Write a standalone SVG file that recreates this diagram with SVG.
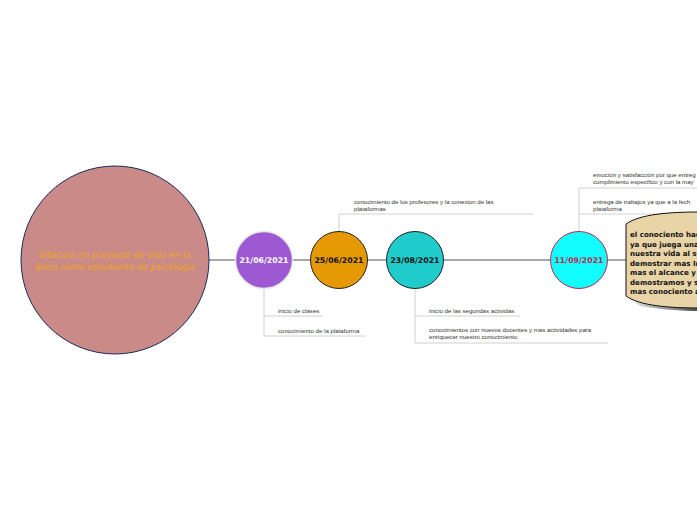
<svg xmlns="http://www.w3.org/2000/svg" width="697" height="520" viewBox="0 0 697 520">
<style>
.lbl{font-family:"Liberation Sans",Arial,sans-serif;font-size:6.1px;fill:#333}
.date{font-family:"DejaVu Sans",Verdana,sans-serif;font-size:7.8px;font-weight:bold;text-anchor:middle}
.br{stroke:#d0d0d0;stroke-width:1;fill:none}
.main{stroke:#a8a8a8;stroke-width:2;fill:none}
.big{font-family:"DejaVu Sans",Verdana,sans-serif;font-size:7.1px;font-weight:bold;fill:#111}
</style>
<defs>
<linearGradient id="sh" x1="0" y1="0" x2="1" y2="0">
<stop offset="0" stop-color="#000" stop-opacity="0.1"/>
<stop offset="1" stop-color="#000" stop-opacity="0.7"/>
</linearGradient>
</defs>
<rect width="697" height="520" fill="#fff"/>
<g id="connectors">
<line class="main" x1="209" y1="260" x2="626" y2="260"/>
<path class="br" d="M264,288 V336 M264,316 H323 M264,336 H366"/>
<path class="br" d="M339,232 V214 H533"/>
<path class="br" d="M415,288 V343 M415,316 H520 M415,343 H608"/>
<path class="br" d="M579,232 V188 H697 M579,214 H697"/>
</g>
<g id="root">
<circle cx="115" cy="260" r="94" fill="#c98a88" stroke="#1b2a5a" stroke-width="1"/>
<text font-family="DejaVu Sans,Verdana,sans-serif" font-size="8.8" font-style="italic" fill="#f2a81c" text-anchor="middle"><tspan x="115" y="258">bitácora mi proyecto de vida en la</tspan><tspan x="115" y="270">ibero  como estudiante de psicología</tspan></text>
</g>
<g id="n1">
<circle cx="264" cy="260" r="28.5" fill="#9c59d1" stroke="#e6e6e6" stroke-width="1.5"/>
<text class="date" x="264" y="263" fill="#fff">21/06/2021</text>
</g>
<g id="n1a"><text class="lbl" x="278" y="313">inicio de clases</text></g>
<g id="n1b"><text class="lbl" x="278" y="333">conocimiento de la plataforma</text></g>
<g id="n2">
<circle cx="339" cy="260" r="28.5" fill="#e59a03" stroke="#222" stroke-width="1"/>
<text class="date" x="339" y="263" fill="#111">25/06/2021</text>
</g>
<g id="n2a"><text class="lbl"><tspan x="354" y="204">conocimiento de los profesores y la conexion de las</tspan><tspan x="354" y="211">plataformas</tspan></text></g>
<g id="n3">
<circle cx="415" cy="260" r="28.5" fill="#20cbcb" stroke="#222" stroke-width="1"/>
<text class="date" x="415" y="263" fill="#111">23/08/2021</text>
</g>
<g id="n3a"><text class="lbl" x="429" y="313">inicio de las segundas actividas</text></g>
<g id="n3b"><text class="lbl"><tspan x="429" y="332">conocimientos con nuevos docentes y mas actividades para</tspan><tspan x="429" y="339">enriquecer nuestro conocimiento</tspan></text></g>
<g id="n4">
<circle cx="579" cy="260" r="28.5" fill="#12fdfd" stroke="#c4254f" stroke-width="1"/>
<text class="date" x="579" y="263" fill="#c4254f">11/09/2021</text>
</g>
<g id="n4a"><text class="lbl"><tspan x="593" y="177">emoción y satisfacción por que entreg</tspan><tspan x="593" y="184">cumplimiento especifico y con la may</tspan></text></g>
<g id="n4b"><text class="lbl"><tspan x="593" y="204">entrega de trabajos ya que  a la fech</tspan><tspan x="593" y="211">plataforma</tspan></text></g>
<g id="n5">
<path d="M640,306 C662,310 685,311 700,311 L700,302 C680,304 650,302 630,298 Z" fill="url(#sh)"/>
<path d="M626,296 L626,224 C640,214 670,212 700,212 L700,308 C670,308 640,306 626,296 Z" fill="#e9d4a8" stroke="#111" stroke-width="1"/>
<text class="big"><tspan x="630" y="237">el conociento hac</tspan><tspan x="630" y="246.5">ya que juega una</tspan><tspan x="630" y="256">nuestra vida al se</tspan><tspan x="630" y="265.5">demostrar mas In</tspan><tspan x="630" y="275">mas el alcance y</tspan><tspan x="630" y="284.5">demostramos y s</tspan><tspan x="630" y="294">mas conociento a</tspan></text>
</g>
</svg>
